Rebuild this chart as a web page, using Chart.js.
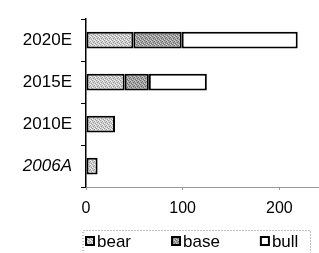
<!DOCTYPE html>
<html>
<head>
<meta charset="utf-8">
<script src="https://cdn.jsdelivr.net/npm/chart.js@4.4.1/dist/chart.umd.min.js"></script>
<style>
  html, body { margin: 0; padding: 0; background: #fff; }
  #wrap { width: 319px; height: 253px; position: relative; }
</style>
</head>
<body>
<div id="wrap"><canvas id="c" width="319" height="253"></canvas></div>
<script>
// ---- data ----
const categories = ['2020E', '2015E', '2010E', '2006A'];
const bearValues = [49, 40, 30, 12];
const baseValues = [50, 25, null, null];
const bullValues = [120, 60, null, null];
const seriesNames = ['bear', 'base', 'bull'];
const xTickValues = [0, 100, 200];

// ---- stipple patterns (style only) ----
function makePattern(bg, dark, light) {
  const c = document.createElement('canvas');
  c.width = 4; c.height = 4;
  const g = c.getContext('2d');
  g.fillStyle = bg; g.fillRect(0, 0, 4, 4);
  g.fillStyle = dark;
  [[0,0],[2,1],[1,2],[3,3]].forEach(p => g.fillRect(p[0], p[1], 1, 1));
  g.fillStyle = light;
  [[2,0],[0,3],[3,1]].forEach(p => g.fillRect(p[0], p[1], 1, 1));
  return document.getElementById('c').getContext('2d').createPattern(c, 'repeat');
}
const bearFill = makePattern('#cfcfcf', '#9a9a9a', '#f2f2f2');
const baseFill = makePattern('#a4a4a4', '#6e6e6e', '#cccccc');
const fills = [bearFill, baseFill, '#ffffff'];

const FONT = '"Liberation Sans", Arial, sans-serif';

// legend drawn inside Chart.js via plugin
const boxLegend = {
  id: 'boxLegend',
  afterDraw(chart) {
    const ctx = chart.ctx;
    const ca = chart.chartArea;
    ctx.save();
    // dotted border
    ctx.strokeStyle = '#888';
    ctx.lineWidth = 1;
    ctx.setLineDash([1, 2]);
    ctx.beginPath();
    ctx.moveTo(ca.left - 3, 260);
    ctx.lineTo(ca.left - 3, 230.5);
    ctx.lineTo(310.5, 230.5);
    ctx.lineTo(310.5, 260);
    ctx.stroke();
    ctx.setLineDash([]);
    ctx.font = '17px ' + FONT;
    ctx.textBaseline = 'middle';
    ctx.fillStyle = '#000';
    let x = ca.left - 1;
    const yMid = 241;
    chart.data.datasets.forEach((ds, i) => {
      ctx.fillStyle = ds.backgroundColor;
      ctx.fillRect(x, yMid - 5, 10, 10);
      ctx.strokeStyle = '#000';
      ctx.lineWidth = 2;
      ctx.strokeRect(x + 1, yMid - 4, 8, 8);
      ctx.fillStyle = '#000';
      ctx.fillText(ds.label, x + 12, yMid + 1);
      x += 12 + ctx.measureText(ds.label).width + 40;
    });
    ctx.restore();
  }
};

const valueSets = [bearValues, baseValues, bullValues];

new Chart(document.getElementById('c'), {
  type: 'bar',
  data: {
    labels: categories,
    datasets: seriesNames.map((name, i) => ({
      label: name,
      data: valueSets[i],
      backgroundColor: fills[i],
      borderColor: '#000',
      borderWidth: 2,
      borderSkipped: false,
      barPercentage: 0.4,
      categoryPercentage: 1.0
    }))
  },
  options: {
    indexAxis: 'y',
    responsive: false,
    animation: false,
    devicePixelRatio: 1,
    layout: { padding: { top: 11, right: 1, bottom: 26, left: 0 } },
    plugins: {
      legend: { display: false },
      tooltip: { enabled: false }
    },
    scales: {
      y: {
        stacked: true,
        afterFit(s) { s.width = 86; },
        border: { display: true, color: '#000', width: 1.5 },
        grid: { display: true, drawOnChartArea: false, drawTicks: true, tickLength: 5, color: '#000', offset: true },
        ticks: {
          color: '#000',
          padding: 9,
          font: (c) => ({ family: FONT, size: 17, style: /A$/.test(categories[c.index] || '') ? 'italic' : 'normal' })
        }
      },
      x: {
        stacked: true,
        min: 0,
        max: 240,
        afterFit(s) { s.height = 40; },
        afterBuildTicks(s) { s.ticks = xTickValues.map(v => ({ value: v })); },
        border: { display: true, color: '#999', width: 1, dash: [1, 2] },
        grid: { display: true, drawOnChartArea: false, drawTicks: true, tickLength: 3, color: '#999' },
        ticks: {
          color: '#000',
          padding: 9,
          maxRotation: 0,
          font: { family: FONT, size: 16 }
        }
      }
    }
  },
  plugins: [boxLegend]
});
</script>
</body>
</html>
